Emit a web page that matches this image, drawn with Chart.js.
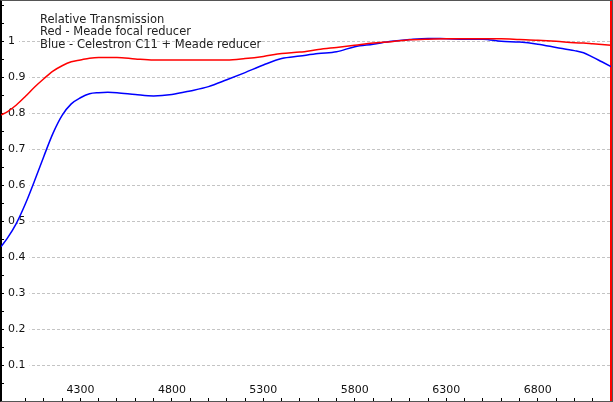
<!DOCTYPE html>
<html lang="en">
<head>
    <meta charset="UTF-8">
    <title>Relative Transmission</title>
    <script src="https://cdn.jsdelivr.net/npm/chart.js"></script>
    <style>
        body {
            margin: 0;
            background: #fff;
        }

        .frame {
            position: absolute;
            left: 0;
            top: 0;
            width: 611px;
            height: 400px;
            border: 1px solid #555;
            border-left-color: #000;
        }

        canvas {
            display: block;
        }
    </style>
</head>
<body>
    <div class="frame">
        <canvas id="transChart" width="611" height="400"></canvas>
    </div>

    <script>
        // Wavelength samples (Angstrom) shared by both curves
        const wavelengths = [3866, 3900, 3950, 4000, 4050, 4100, 4150, 4200, 4250, 4300,
            4350, 4400, 4450, 4500, 4600, 4700, 4800, 4900, 5000, 5100,
            5200, 5300, 5400, 5500, 5600, 5700, 5800, 5900, 6000, 6100,
            6200, 6300, 6400, 6500, 6600, 6700, 6800, 6900, 7000, 7050,
            7100, 7150, 7200];

        // Red - Meade focal reducer
        const redValues = [0.795, 0.804, 0.823, 0.847, 0.873, 0.896, 0.917, 0.932, 0.943, 0.948,
            0.953, 0.955, 0.955, 0.955, 0.951, 0.948, 0.948, 0.948, 0.948, 0.948,
            0.952, 0.958, 0.966, 0.970, 0.977, 0.983, 0.989, 0.995, 0.999, 1.004,
            1.006, 1.007, 1.007, 1.007, 1.007, 1.005, 1.003, 1.000, 0.996, 0.995,
            0.993, 0.991, 0.989];

        // Blue - Celestron C11 + Meade reducer
        const blueValues = [0.429, 0.452, 0.494, 0.549, 0.613, 0.680, 0.744, 0.794, 0.826, 0.843,
            0.854, 0.857, 0.858, 0.857, 0.852, 0.848, 0.852, 0.862, 0.874, 0.893,
            0.913, 0.934, 0.952, 0.959, 0.966, 0.971, 0.985, 0.992, 1.000, 1.005,
            1.008, 1.007, 1.006, 1.006, 1.000, 0.998, 0.992, 0.983, 0.974, 0.968,
            0.956, 0.943, 0.930];

        // Red cursor at the right end of the range
        const cursorX = [7200, 7200];
        const cursorY = [0, 1.112];

        const xLabelTicks = [4300, 4800, 5300, 5800, 6300, 6800];
        const noteLines = [
            'Relative Transmission',
            'Red - Meade focal reducer',
            'Blue - Celestron C11 + Meade reducer'
        ];

        const fontFamily = '"DejaVu Sans", sans-serif';

        const toPoints = (xs, ys) => xs.map((x, i) => ({ x, y: ys[i] }));

        // y ticks every 0.05, labels and grid only on 0.1 .. 1.0
        function isMajorY(v) {
            const k = Math.round(v * 20);
            return k % 2 === 0 && k >= 2 && k <= 20;
        }

        // no room reserved for the axes, everything sits inside the plot
        function flatten(scale) {
            if (scale.isHorizontal()) scale.height = 0;
            else scale.width = 0;
            scale.paddingTop = scale.paddingBottom = 0;
            scale.paddingLeft = scale.paddingRight = 0;
        }

        // Note text and the x labels, which sit just above the bottom axis
        const textPlugin = {
            id: 'innerText',
            afterDraw(chart) {
                const ctx = chart.ctx;
                const xScale = chart.scales.x;
                ctx.save();
                ctx.fillStyle = '#222';
                ctx.font = '11.5px ' + fontFamily;
                ctx.textAlign = 'left';
                ctx.textBaseline = 'alphabetic';
                noteLines.forEach((line, i) => {
                    ctx.fillText(line, 39, 21.5 + i * 12.5);
                });

                ctx.fillStyle = '#111';
                ctx.font = '11px ' + fontFamily;
                ctx.textAlign = 'center';
                ctx.textBaseline = 'middle';
                xLabelTicks.forEach(v => {
                    ctx.fillText(String(v), xScale.getPixelForValue(v), xScale.top - 11);
                });
                ctx.restore();
            }
        };

        new Chart(document.getElementById('transChart'), {
            type: 'line',
            data: {
                datasets: [{
                    data: toPoints(wavelengths, redValues),
                    borderColor: '#ff0000',
                    borderWidth: 1.5,
                    pointRadius: 0,
                    cubicInterpolationMode: 'monotone'
                }, {
                    data: toPoints(wavelengths, blueValues),
                    borderColor: '#0000ff',
                    borderWidth: 1.5,
                    pointRadius: 0,
                    cubicInterpolationMode: 'monotone'
                }, {
                    data: toPoints(cursorX, cursorY),
                    borderColor: '#ff0000',
                    borderWidth: 2,
                    pointRadius: 0,
                    clip: false
                }]
            },
            options: {
                responsive: false,
                animation: false,
                devicePixelRatio: 1,
                layout: { autoPadding: false, padding: { left: 0, top: 0, right: 1, bottom: 0 } },
                plugins: {
                    legend: { display: false },
                    tooltip: { enabled: false }
                },
                scales: {
                    x: {
                        type: 'linear',
                        position: 'bottom',
                        min: 3866,
                        max: 7200,
                        afterFit: flatten,
                        border: { color: '#000', width: 1 },
                        grid: {
                            drawOnChartArea: false,
                            drawTicks: true,
                            tickLength: -3,
                            tickColor: '#000'
                        },
                        ticks: {
                            stepSize: 100,
                            includeBounds: false,
                            autoSkip: false,
                            maxRotation: 0,
                            callback: () => ''
                        }
                    },
                    y: {
                        type: 'linear',
                        position: 'left',
                        min: 0,
                        max: 1.112,
                        afterFit: flatten,
                        border: { color: '#000', width: 1, dash: [3, 2] },
                        grid: {
                            drawTicks: true,
                            tickLength: -3,
                            tickColor: '#000',
                            color: ctx => (ctx.tick && isMajorY(ctx.tick.value)) ? '#c4c4c4' : 'rgba(0,0,0,0)'
                        },
                        ticks: {
                            stepSize: 0.05,
                            includeBounds: false,
                            autoSkip: false,
                            mirror: true,
                            padding: 7,
                            color: '#111',
                            font: { family: fontFamily, size: 11 },
                            showLabelBackdrop: true,
                            backdropColor: '#fff',
                            backdropPadding: { left: 4, right: 4, top: 1, bottom: 1 },
                            callback: v => isMajorY(v) ? String(Math.round(v * 20) / 20) : ''
                        }
                    }
                }
            },
            plugins: [textPlugin]
        });
    </script>
</body>
</html>
